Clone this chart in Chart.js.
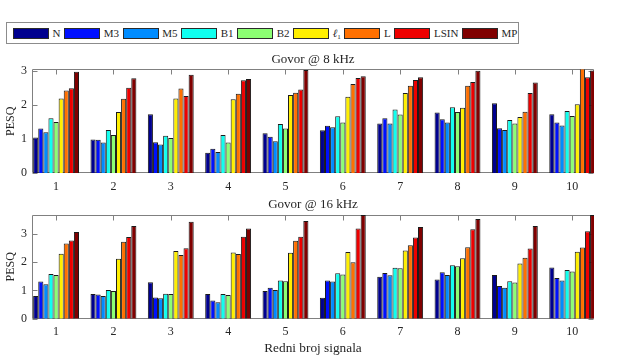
<!DOCTYPE html>
<html><head><meta charset="utf-8">
<script src="https://cdn.jsdelivr.net/npm/chart.js@4"></script>
<style>
html,body{margin:0;padding:0;background:#fff;width:621px;height:357px;overflow:hidden;font-family:'Liberation Serif',serif;color:#262626;}
#legend{position:absolute;left:6px;top:22px;width:513px;height:22px;box-sizing:border-box;border:1px solid #8c8c8c;display:flex;align-items:center;padding-left:6px;gap:3.6px;font-size:11px;white-space:nowrap;}
#legend .patch{width:36px;height:11px;box-sizing:border-box;border:1px solid #2a2a2a;flex:none;}
#legend .lab{line-height:11px;}
#legend sub{font-size:7px;vertical-align:-2px;line-height:0;}
.panel{position:absolute;left:0;width:621px;}
</style></head>
<body>
<div id="legend"></div>
<div class="panel" style="top:48px;height:147px"><canvas id="chart8" width="621" height="147" style="width:621px;height:147px"></canvas></div>
<div class="panel" style="top:195px;height:162px"><canvas id="chart16" width="621" height="162" style="width:621px;height:162px"></canvas></div>
<script>
// ---- data ----
const categories = [1, 2, 3, 4, 5, 6, 7, 8, 9, 10];
const seriesNames = ['N', 'M3', 'M5', 'B1', 'B2', 'ℓ1', 'L', 'LSIN', 'MP'];
const seriesColors = ['#00008f', '#0010ff', '#008cff', '#10ffef', '#8cff73', '#ffef00', '#ff7000', '#ee0000', '#800000'];
const yTicks = [0, 1, 2, 3];

// Govor @ 8 kHz
const pesq8_N    = [1.05, 0.99, 1.73, 0.60, 1.17, 1.26, 1.46, 1.78, 2.05, 1.73];
const pesq8_M3   = [1.31, 0.98, 0.91, 0.72, 1.07, 1.39, 1.61, 1.58, 1.32, 1.49];
const pesq8_M5   = [1.20, 0.90, 0.84, 0.62, 0.94, 1.35, 1.46, 1.49, 1.27, 1.40];
const pesq8_B1   = [1.61, 1.27, 1.10, 1.12, 1.44, 1.67, 1.87, 1.93, 1.56, 1.82];
const pesq8_B2   = [1.50, 1.12, 1.03, 0.90, 1.31, 1.49, 1.72, 1.79, 1.46, 1.68];
const pesq8_l1   = [2.19, 1.79, 2.19, 2.17, 2.29, 2.24, 2.35, 1.92, 1.65, 2.02];
const pesq8_L    = [2.42, 2.18, 2.48, 2.33, 2.36, 2.61, 2.56, 2.56, 1.80, 3.25];
const pesq8_LSIN = [2.49, 2.50, 2.26, 2.72, 2.45, 2.79, 2.73, 2.67, 2.35, 2.81];
const pesq8_MP   = [2.97, 2.78, 2.88, 2.76, 3.02, 2.84, 2.81, 3.00, 2.66, 3.01];

// Govor @ 16 kHz
const pesq16_N    = [0.80, 0.87, 1.29, 0.87, 0.98, 0.74, 1.48, 1.38, 1.54, 1.81];
const pesq16_M3   = [1.31, 0.85, 0.75, 0.64, 1.09, 1.35, 1.61, 1.64, 1.15, 1.44];
const pesq16_M5   = [1.22, 0.80, 0.72, 0.58, 1.01, 1.31, 1.53, 1.54, 1.09, 1.35];
const pesq16_B1   = [1.58, 1.01, 0.88, 0.87, 1.35, 1.60, 1.80, 1.89, 1.32, 1.72];
const pesq16_B2   = [1.54, 0.98, 0.87, 0.84, 1.32, 1.56, 1.78, 1.85, 1.28, 1.67];
const pesq16_l1   = [2.29, 2.12, 2.39, 2.34, 2.33, 2.35, 2.41, 2.13, 1.95, 2.36];
const pesq16_L    = [2.65, 2.72, 2.25, 2.28, 2.75, 1.99, 2.59, 2.52, 2.15, 2.51];
const pesq16_LSIN = [2.76, 2.88, 2.49, 2.89, 2.89, 3.18, 2.87, 3.16, 2.48, 3.09];
const pesq16_MP   = [3.06, 3.27, 3.42, 3.18, 3.45, 3.66, 3.24, 3.52, 3.27, 3.66];

const series8 = [pesq8_N, pesq8_M3, pesq8_M5, pesq8_B1, pesq8_B2, pesq8_l1, pesq8_L, pesq8_LSIN, pesq8_MP];
const series16 = [pesq16_N, pesq16_M3, pesq16_M5, pesq16_B1, pesq16_B2, pesq16_l1, pesq16_L, pesq16_LSIN, pesq16_MP];

// ---- legend ----
const legendEl = document.getElementById('legend');
seriesNames.forEach((name, k) => {
  const p = document.createElement('span');
  p.className = 'patch';
  p.style.background = seriesColors[k];
  legendEl.appendChild(p);
  const t = document.createElement('span');
  t.className = 'lab';
  const m = name.match(/^ℓ(\d)$/);
  if (m) { t.innerHTML = '<i>ℓ</i><sub>' + m[1] + '</sub>'; } else { t.textContent = name; }
  legendEl.appendChild(t);
});

// ---- charts ----
const FONT = "'Liberation Serif', 'Times New Roman', serif";
const TXT = '#262626';
Chart.defaults.font.family = FONT;
Chart.defaults.font.size = 12;
Chart.defaults.color = TXT;

const framePlugin = {
  id: 'frame',
  beforeDatasetsDraw(chart) {
    const {ctx, chartArea: a, scales: {x, y}} = chart;
    const L = Math.round(a.left) + 0.5, R = Math.round(a.right) - 0.5;
    const T = Math.round(a.top) + 0.5, B = Math.round(a.bottom) - 0.5;
    ctx.save();
    ctx.strokeStyle = '#808080';
    ctx.lineWidth = 1;
    ctx.beginPath();
    ctx.rect(L, T, R - L, B - T);
    x.ticks.forEach(t => {
      const px = Math.round(x.getPixelForValue(t.value)) + 0.5;
      ctx.moveTo(px, B); ctx.lineTo(px, B - 5);
      ctx.moveTo(px, T); ctx.lineTo(px, T + 5);
    });
    y.ticks.forEach(t => {
      const py = Math.round(y.getPixelForValue(t.value)) + 0.5;
      ctx.moveTo(L, py); ctx.lineTo(L + 5, py);
      ctx.moveTo(R, py); ctx.lineTo(R - 5, py);
    });
    ctx.stroke();
    ctx.restore();
  }
};

const panelTitlePlugin = {
  id: 'panelTitle',
  afterDraw(chart, args, opts) {
    const {ctx, chartArea: a} = chart;
    ctx.save();
    ctx.fillStyle = TXT;
    ctx.font = '13px ' + FONT;
    ctx.textAlign = 'center';
    ctx.textBaseline = 'middle';
    ctx.fillText(opts.text, (a.left + a.right) / 2, a.top - opts.gap);
    ctx.restore();
  }
};

function buildDatasets(lists) {
  return seriesNames.map((name, k) => ({
    label: name,
    data: categories.map((c, i) => ({x: c, y: lists[k][i]})),
    backgroundColor: seriesColors[k],
    borderColor: '#1a1a1a',
    borderWidth: 1,
    barPercentage: 1,
    categoryPercentage: 0.8,
    clip: 0
  }));
}

function makeChart(id, lists, opt) {
  return new Chart(document.getElementById(id), {
    type: 'bar',
    data: {datasets: buildDatasets(lists)},
    options: {
      responsive: false,
      animation: false,
      events: [],
      layout: {padding: {top: opt.padTop, right: 27, left: 0, bottom: 0}},
      plugins: {
        legend: {display: false},
        tooltip: {enabled: false},
        panelTitle: {text: opt.title, gap: opt.titleGap}
      },
      scales: {
        x: {
          type: 'linear',
          min: 0.58, max: 10.38,
          offset: false,
          grid: {display: false, drawTicks: false},
          border: {display: false},
          ticks: {padding: 6, autoSkip: false, maxRotation: 0},
          afterBuildTicks: s => { s.ticks = categories.map(v => ({value: v})); },
          afterFit: s => { s.height = opt.xHeight; },
          title: opt.xTitle ? {display: true, text: opt.xTitle, font: {size: 13.3}, padding: {top: 0, bottom: 1}} : {display: false}
        },
        y: {
          min: 0, max: opt.yMax,
          grid: {display: false, drawTicks: false},
          border: {display: false},
          ticks: {padding: 5},
          afterBuildTicks: s => { s.ticks = yTicks.map(v => ({value: v})); },
          afterFit: s => { s.width = 32; },
          title: {display: true, text: 'PESQ', padding: {top: 4, bottom: 0}}
        }
      }
    },
    plugins: [framePlugin, panelTitlePlugin]
  });
}

makeChart('chart8', series8, {padTop: 21.4, xHeight: 21.7, yMax: 3.04, title: 'Govor @ 8 kHz', titleGap: 9.5});
makeChart('chart16', series16, {padTop: 20, xHeight: 38.3, yMax: 3.66, title: 'Govor @ 16 kHz', titleGap: 10.5, xTitle: 'Redni broj signala'});
</script>
</body></html>
